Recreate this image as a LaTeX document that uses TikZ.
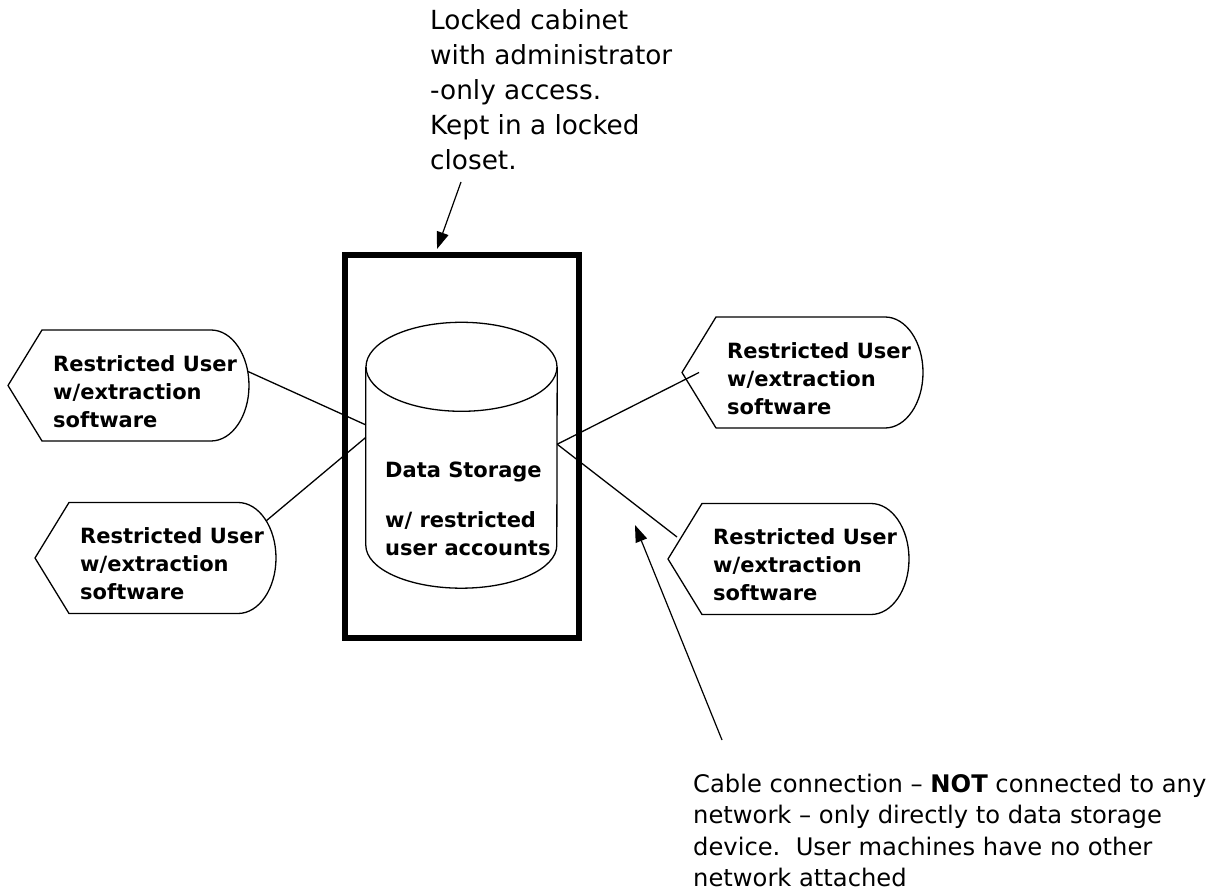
\documentclass[tikz,border=0pt]{standalone}
\usepackage{fontspec}
\setmainfont{DejaVu Sans}
\usetikzlibrary{arrows.meta,calc}

\tikzset{
  userline/.style={line width=1.3pt, line join=round},
  usertext/.style={font=\bfseries\fontsize{21}{28}\selectfont, align=left, inner sep=0pt, anchor=west},
  cable/.style={line width=1.3pt},
  notearrow/.style={line width=1.2pt, -{Triangle[length=17pt,width=12pt]}},
  notetext/.style={align=left, inner sep=0pt, anchor=north west},
}

% outline of a user machine, drawn round its text node
\newcommand{\userframe}[1]{%
  \draw[userline] ($(#1.west)+(-45,6)$) -- ++(34,55.5) -- ++(169,0)
    arc[start angle=90, end angle=-90, x radius=38, y radius=55.5]
    -- ++(-169,0) -- cycle;
}

\begin{document}
\begin{tikzpicture}[x=1pt,y=1pt]
    \useasboundingbox (0,0) rectangle (1217,894);

    % cabinet and storage
    \node[draw, line width=6pt, inner sep=0pt, minimum width=234pt, minimum height=383.5pt] (cabinet) at (461.5,447.25) {};
    \node[inner sep=0pt, minimum width=191pt, minimum height=178pt] (store) at (461.5,438) {};
    \draw[userline] (store.north west) -- (store.south west)
        arc[start angle=180, end angle=360, x radius=95.5, y radius=43] -- (store.north east);
    \draw[userline] (store.north) ellipse [x radius=95.5, y radius=44.5];
    \node[usertext] (storelabel) at (385,385) {Data Storage\\[22pt]w/ restricted\\user accounts};

    % restricted users
    \node[usertext] (ul) at (53,502.5) {Restricted User\\w/extraction\\software};
    \node[usertext] (ll) at (80,330) {Restricted User\\w/extraction\\software};
    \node[usertext] (ur) at (727,515.5) {Restricted User\\w/extraction\\software};
    \node[usertext] (lr) at (713,329) {Restricted User\\w/extraction\\software};
    \userframe{ul}
    \userframe{ll}
    \userframe{ur}
    \userframe{lr}

    % cables
    \draw[cable] ($(ul.west)+(195,20)$) -- (store.162);
    \draw[cable] ($(ll.west)+(186,43)$) -- (store.169);
    \draw[cable] (store.7) -- ($(ur.west)+(-28,6)$);
    \draw[cable] (store.7) -- ($(lr.west)+(-36,28)$);

    % notes
    \node[notetext, font=\fontsize{26.3}{35}\selectfont] (lockednote) at (430,885) {Locked cabinet\\with administrator\\-only access.\\Kept in a locked\\closet.};
    \coordinate (lockedtail) at (461,712);
    \draw[notearrow] (lockedtail) -- ($(cabinet.north)+(-24.5,3)$);

    \node[notetext, font=\fontsize{24.2}{31.5}\selectfont] (cablenote) at (693,120.5) {Cable connection – \textbf{NOT} connected to any\\network – only directly to data storage\\device.\ \ User machines have no other\\network attached};
    \coordinate (cabletail) at (722,154);
    \coordinate (cabletip) at (635,369);
    \draw[notearrow] (cabletail) -- (cabletip);
\end{tikzpicture}
\end{document}
